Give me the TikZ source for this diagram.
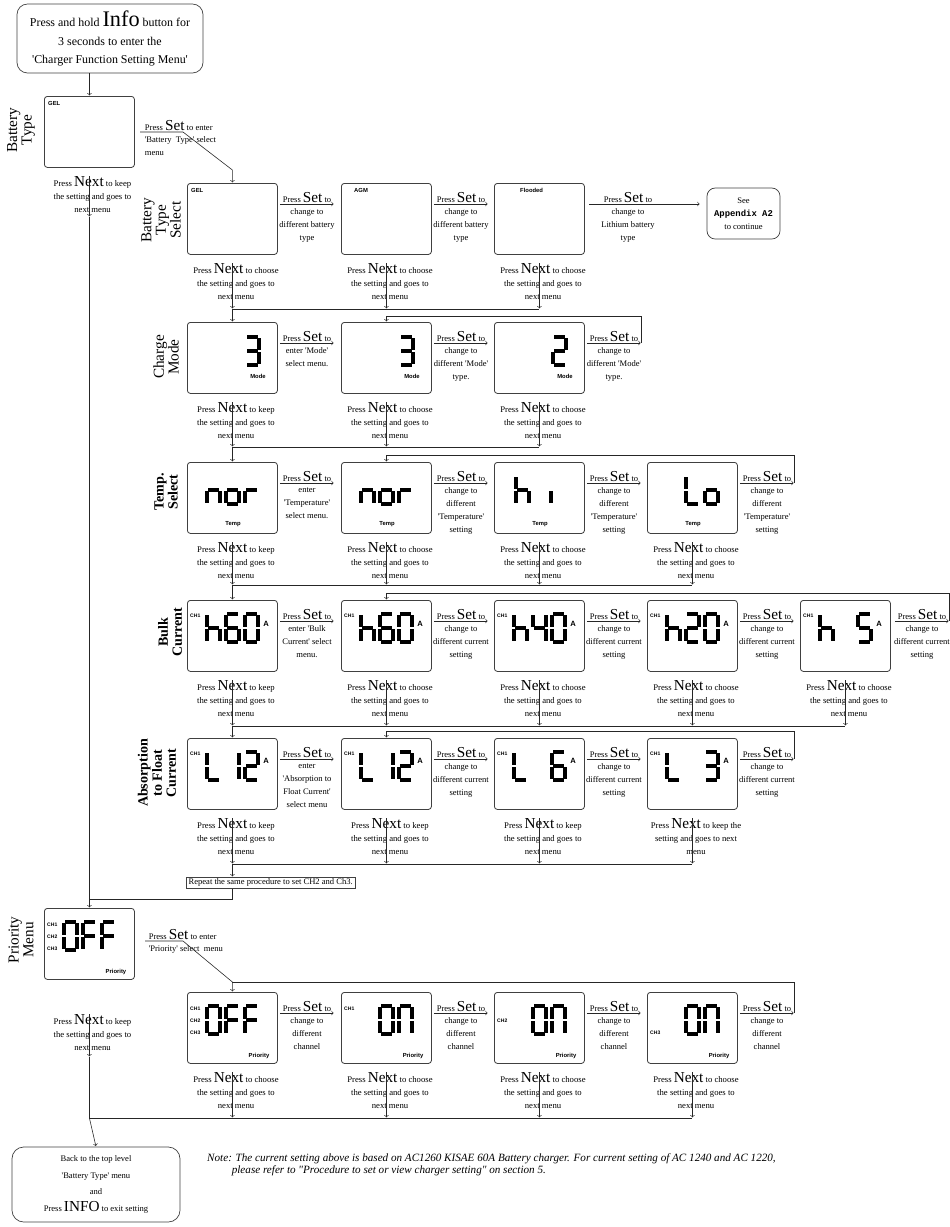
\documentclass[tikz,border=0pt]{standalone}
\usepackage{fontspec}
\setmainfont{Liberation Serif}[Ligatures=TeXOff]
\setsansfont{Liberation Sans}
\setmonofont{Liberation Mono}
\usetikzlibrary{positioning}

% big key words in the labels
\newcommand{\keyw}[1]{{\fontsize{13}{13}\selectfont #1}}

% seven segment codes, p1 p2 top, p3 p4 middle, p5 p6 bottom
\newcommand{\sgZero}{1/2,2/4,4/6,5/6,3/5,1/3}
\newcommand{\sgOne}{2/4,4/6}
\newcommand{\sgTwo}{1/2,2/4,3/4,3/5,5/6}
\newcommand{\sgThree}{1/2,2/4,3/4,4/6,5/6}
\newcommand{\sgFour}{1/3,3/4,2/4,4/6}
\newcommand{\sgFive}{1/2,1/3,3/4,4/6,5/6}
\newcommand{\sgSix}{1/2,1/3,3/5,5/6,4/6,3/4}
\newcommand{\sgH}{1/3,3/5,3/4,4/6}
\newcommand{\sgL}{1/3,3/5,5/6}
\newcommand{\sgN}{3/5,3/4,4/6}
\newcommand{\sgO}{3/4,4/6,5/6,3/5}
\newcommand{\sgR}{3/5,3/4}
\newcommand{\sgI}{3/5}
\newcommand{\sgF}{1/2,1/3,3/5,3/4}
\newcommand{\sgCap}{1/2,2/4,4/6,1/3,3/5}

\newcommand{\lcddigit}[3]{%
  \begin{scope}[shift={(#1,#2)}]
    \coordinate (p1) at (0,0);  \coordinate (p2) at (13,0);
    \coordinate (p3) at (0,14); \coordinate (p4) at (13,14);
    \coordinate (p5) at (0,28); \coordinate (p6) at (13,28);
    \edef\lcdlist{#3}%
    \foreach \s/\t in \lcdlist {\draw[lcdseg] (p\s) -- (p\t);}
  \end{scope}}

\begin{document}
\begin{tikzpicture}[x=0.03cm, y=-0.03cm,
  lcd/.style={draw=black!75, line width=0.7pt, rounded corners=2.5pt, minimum width=2.7cm, minimum height=2.13cm, anchor=north west, inner sep=0pt},
  lcdseg/.style={line width=2.8pt, shorten >=1.1pt, shorten <=1.1pt},
  tag/.style={font=\sffamily\bfseries\fontsize{5}{5}\selectfont, inner sep=0pt},
  chtag/.style={font=\sffamily\bfseries\fontsize{4.3}{4.3}\selectfont, inner sep=0pt, anchor=west},
  amp/.style={font=\sffamily\bfseries\fontsize{6.5}{6.5}\selectfont, inner sep=0pt},
  rowlbl/.style={font=\fontsize{13}{12.5}\selectfont, align=center, rotate=90, inner sep=0pt},
  rowbold/.style={font=\bfseries\fontsize{12}{12}\selectfont, align=center, rotate=90, inner sep=0pt},
  setlbl/.style={font=\fontsize{7.3}{11}\selectfont, minimum width=1.62cm, inner xsep=0pt, inner ysep=1pt, anchor=south},
  setsub/.style={font=\fontsize{7.3}{11}\selectfont, align=center, inner sep=0pt},
  nextlbl/.style={font=\fontsize{7.4}{11.2}\selectfont, align=center, inner sep=0pt, anchor=north},
  roundbox/.style={draw=black!75, line width=0.6pt, align=center, inner sep=0pt},
  link/.style={->, draw=black!85, line width=0.5pt, shorten >=0.5pt},
  wire/.style={draw=black!85, line width=0.5pt}]
\useasboundingbox (0,0) rectangle (950,1227);
\clip (0,0) rectangle (950,1227);

% y levels of the joining lines
\coordinate (m1) at (0,217);
\coordinate (k1) at (183,132);
\coordinate (k2) at (0,170);
\coordinate (c2) at (0,309);
\coordinate (l3) at (0,316);
\coordinate (c3) at (0,447);
\coordinate (l4) at (0,455);
\coordinate (c4) at (0,585);
\coordinate (l5) at (0,593);
\coordinate (c5) at (0,726);
\coordinate (l6) at (0,731);
\coordinate (c6) at (0,864);
\coordinate (j7) at (0,899);
\coordinate (k7) at (183,941);
\coordinate (l8) at (0,982);
\coordinate (m7) at (0,1057);
\coordinate (c8) at (0,1118);

% start
\node[roundbox, minimum width=5.58cm, minimum height=2.07cm, rounded corners=9pt, font=\fontsize{10.2}{15.5}\selectfont] (start) at (110,38.5)
  {Press and hold {\fontsize{19}{19}\selectfont Info} button for\\3 seconds to enter the\\'Charger Function Setting Menu'};

% battery type
\node[rowlbl] (r1) at (21,130) {Battery\\Type};
\node[lcd] (b1) at (44,96) {};
\node[tag, anchor=north west] at (48,101) {GEL};
\draw[link] (start.south -| b1.north) -- (b1.north);
\node[setsub, anchor=south west, inner xsep=4pt, inner ysep=1pt] (e1) at (140,132) {Press \keyw{Set} to enter};
\node[setsub, anchor=north west, align=left, inner xsep=4pt] at (140,136) {'Battery~~Type' select\\menu};
\node[nextlbl] (n1) at (92.5,176) {Press \keyw{Next} to keep\\the setting and goes to\\next menu};

% battery type select
\node[rowlbl] (r2) at (161,220) {Battery\\Type\\Select};
\node[lcd] (b21) at (187,183) {};
\node[lcd] (b22) at (341,183) {};
\node[lcd] (b23) at (494,183) {};
\node[tag, anchor=north west] at (191,188) {GEL};
\node[tag, anchor=north west] at (354,188) {AGM};
\node[tag, anchor=north west] at (520,188) {Flooded};
\node[roundbox, minimum width=2.19cm, minimum height=1.53cm, rounded corners=7pt, font=\fontsize{7.3}{11}\selectfont] (app) at (743.5,213.5)
  {See\\{\ttfamily\bfseries\fontsize{7.6}{11}\selectfont Appendix A2}\\to continue};
\node[setlbl] (s21) at (307,204) {Press \keyw{Set} to};
\node[setsub, below=4pt of s21] {change to\\different battery\\type};
\node[setlbl] (s22) at (461,204) {Press \keyw{Set} to};
\node[setsub, below=4pt of s22] {change to\\different battery\\type};
\node[setlbl, minimum width=2.3cm] (s23) at (628,204) {Press \keyw{Set} to};
\node[setsub, below=4pt of s23] {change to\\Lithium battery\\type};
\draw[link] (e1.south west) -- (k1) -- (b21.north |- k2) -- (b21.north);
\draw[link] (s21.south west) -- (s21.south east);
\draw[link] (s22.south west) -- (s22.south east);
\draw[link, shorten >=6pt] (s23.south west) -- (s23.south west -| app.west);
\node[nextlbl] (n21) at (236,263) {Press \keyw{Next} to choose\\the setting and goes to\\next menu};
\node[nextlbl] (n22) at (390,263) {Press \keyw{Next} to choose\\the setting and goes to\\next menu};
\node[nextlbl] (n23) at (543,263) {Press \keyw{Next} to choose\\the setting and goes to\\next menu};
\draw[link] (n21.north -| b21.south) -- (b21.south |- c2);
\draw[link] (n22.north -| b22.south) -- (b22.south |- c2);
\draw[link] (n23.north -| b23.south) -- (b23.south |- c2);
\draw[wire] (b21.south |- c2) -- (b23.south |- c2);

% charge mode
\node[rowlbl] (r3) at (166,357) {Charge\\Mode};
\node[lcd] (b31) at (187,322) {};
\node[lcd] (b32) at (341,322) {};
\node[lcd] (b33) at (494,322) {};
\lcddigit{246}{337}{\sgThree}
\lcddigit{400}{337}{\sgThree}
\lcddigit{553}{337}{\sgTwo}
\node[tag] at (258,376) {Mode};
\node[tag] at (412,376) {Mode};
\node[tag] at (565,376) {Mode};
\draw[link] (b21.south |- c2) -- (b31.north);
\node[setlbl] (s31) at (307,343) {Press \keyw{Set} to};
\node[setsub, below=4pt of s31] {enter 'Mode'\\select menu.};
\node[setlbl] (s32) at (461,343) {Press \keyw{Set} to};
\node[setsub, below=4pt of s32] {change to\\different 'Mode'\\type.};
\node[setlbl] (s33) at (614,343) {Press \keyw{Set} to};
\node[setsub, below=4pt of s33] {change to\\different 'Mode'\\type.};
\draw[link] (s31.south west) -- (s31.south east);
\draw[link] (s32.south west) -- (s32.south east);
\draw[link] (s33.south west) -- (s33.south east);
\draw[link] (s33.south east) |- (b32.north |- l3) -- (b32.north);
\node[nextlbl] (n31) at (236,402) {Press \keyw{Next} to keep\\the setting and goes to\\next menu};
\node[nextlbl] (n32) at (390,402) {Press \keyw{Next} to choose\\the setting and goes to\\next menu};
\node[nextlbl] (n33) at (543,402) {Press \keyw{Next} to choose\\the setting and goes to\\next menu};
\draw[link] (n31.north -| b31.south) -- (b31.south |- c3);
\draw[link] (n32.north -| b32.south) -- (b32.south |- c3);
\draw[link] (n33.north -| b33.south) -- (b33.south |- c3);
\draw[wire] (b31.south |- c3) -- (b33.south |- c3);

% temperature
\node[rowbold] (r4) at (166,492) {Temp.\\Select};
\node[lcd] (b41) at (187,462) {};
\node[lcd] (b42) at (341,462) {};
\node[lcd] (b43) at (494,462) {};
\node[lcd] (b44) at (647,462) {};
\lcddigit{207}{476}{\sgN} \lcddigit{226}{476}{\sgO} \lcddigit{245}{476}{\sgR}
\lcddigit{361}{476}{\sgN} \lcddigit{380}{476}{\sgO} \lcddigit{399}{476}{\sgR}
\lcddigit{516}{476}{\sgH} \lcddigit{551}{476}{\sgI}
\lcddigit{686}{476}{\sgL} \lcddigit{705}{476}{\sgO}
\node[tag] at (233,524) {Temp};
\node[tag] at (387,524) {Temp};
\node[tag] at (540,524) {Temp};
\node[tag] at (693,524) {Temp};
\draw[link] (b31.south |- c3) -- (b41.north);
\node[setlbl] (s41) at (307,483) {Press \keyw{Set} to};
\node[setsub, below=4pt of s41] {enter\\'Temperature'\\select menu.};
\node[setlbl] (s42) at (461,483) {Press \keyw{Set} to};
\node[setsub, below=4pt of s42] {change to\\different\\'Temperature'\\setting};
\node[setlbl] (s43) at (614,483) {Press \keyw{Set} to};
\node[setsub, below=4pt of s43] {change to\\different\\'Temperature'\\setting};
\node[setlbl] (s44) at (767,483) {Press \keyw{Set} to};
\node[setsub, below=4pt of s44] {change to\\different\\'Temperature'\\setting};
\draw[link] (s41.south west) -- (s41.south east);
\draw[link] (s42.south west) -- (s42.south east);
\draw[link] (s43.south west) -- (s43.south east);
\draw[link] (s44.south west) -- (s44.south east);
\draw[link] (s44.south east) |- (b42.north |- l4) -- (b42.north);
\node[nextlbl] (n41) at (236,542) {Press \keyw{Next} to keep\\the setting and goes to\\next menu};
\node[nextlbl] (n42) at (390,542) {Press \keyw{Next} to choose\\the setting and goes to\\next menu};
\node[nextlbl] (n43) at (543,542) {Press \keyw{Next} to choose\\the setting and goes to\\next menu};
\node[nextlbl] (n44) at (696,542) {Press \keyw{Next} to choose\\the setting and goes to\\next menu};
\draw[link] (n41.north -| b41.south) -- (b41.south |- c4);
\draw[link] (n42.north -| b42.south) -- (b42.south |- c4);
\draw[link] (n43.north -| b43.south) -- (b43.south |- c4);
\draw[link] (n44.north -| b44.south) -- (b44.south |- c4);
\draw[wire] (b41.south |- c4) -- (b44.south |- c4);

% bulk current
\node[rowbold] (r5) at (170,632) {Bulk\\Current};
\node[lcd] (b51) at (187,600) {};
\node[lcd] (b52) at (341,600) {};
\node[lcd] (b53) at (494,600) {};
\node[lcd] (b54) at (647,600) {};
\node[lcd] (b55) at (800,600) {};
\lcddigit{207}{614}{\sgH} \lcddigit{226}{614}{\sgSix} \lcddigit{245}{614}{\sgZero}
\lcddigit{361}{614}{\sgH} \lcddigit{380}{614}{\sgSix} \lcddigit{399}{614}{\sgZero}
\lcddigit{514}{614}{\sgH} \lcddigit{533}{614}{\sgFour} \lcddigit{552}{614}{\sgZero}
\lcddigit{667}{614}{\sgH} \lcddigit{686}{614}{\sgTwo} \lcddigit{705}{614}{\sgZero}
\lcddigit{820}{614}{\sgH} \lcddigit{858}{614}{\sgFive}
\node[chtag] at (190,616) {CH1}; \node[amp] at (266,624) {A};
\node[chtag] at (344,616) {CH1}; \node[amp] at (420,624) {A};
\node[chtag] at (497,616) {CH1}; \node[amp] at (573,624) {A};
\node[chtag] at (650,616) {CH1}; \node[amp] at (726,624) {A};
\node[chtag] at (803,616) {CH1}; \node[amp] at (879,624) {A};
\draw[link] (b41.south |- c4) -- (b51.north);
\node[setlbl] (s51) at (307,621) {Press \keyw{Set} to};
\node[setsub, below=4pt of s51] {enter 'Bulk\\Current' select\\menu.};
\node[setlbl] (s52) at (461,621) {Press \keyw{Set} to};
\node[setsub, below=4pt of s52] {change to\\different current\\setting};
\node[setlbl] (s53) at (614,621) {Press \keyw{Set} to};
\node[setsub, below=4pt of s53] {change to\\different current\\setting};
\node[setlbl] (s54) at (767,621) {Press \keyw{Set} to};
\node[setsub, below=4pt of s54] {change to\\different current\\setting};
\node[setlbl] (s55) at (922,621) {Press \keyw{Set} to};
\node[setsub, below=4pt of s55] {change to\\different current\\setting};
\draw[link] (s51.south west) -- (s51.south east);
\draw[link] (s52.south west) -- (s52.south east);
\draw[link] (s53.south west) -- (s53.south east);
\draw[link] (s54.south west) -- (s54.south east);
\draw[link] (s55.south west) -- (s55.south east);
\draw[link] (s55.south east) |- (b52.north |- l5) -- (b52.north);
\node[nextlbl] (n51) at (236,680) {Press \keyw{Next} to keep\\the setting and goes to\\next menu};
\node[nextlbl] (n52) at (390,680) {Press \keyw{Next} to choose\\the setting and goes to\\next menu};
\node[nextlbl] (n53) at (543,680) {Press \keyw{Next} to choose\\the setting and goes to\\next menu};
\node[nextlbl] (n54) at (696,680) {Press \keyw{Next} to choose\\the setting and goes to\\next menu};
\node[nextlbl] (n55) at (849,680) {Press \keyw{Next} to choose\\the setting and goes to\\next menu};
\draw[link] (n51.north -| b51.south) -- (b51.south |- c5);
\draw[link] (n52.north -| b52.south) -- (b52.south |- c5);
\draw[link] (n53.north -| b53.south) -- (b53.south |- c5);
\draw[link] (n54.north -| b54.south) -- (b54.south |- c5);
\draw[link] (n55.north -| b55.south) -- (b55.south |- c5);
\draw[wire] (b51.south |- c5) -- (b55.south |- c5);

% absorption to float current
\node[rowbold] (r6) at (157,773) {Absorption\\to Float\\Current};
\node[lcd] (b61) at (187,738) {};
\node[lcd] (b62) at (341,738) {};
\node[lcd] (b63) at (494,738) {};
\node[lcd] (b64) at (647,738) {};
\lcddigit{207}{752}{\sgL} \lcddigit{226}{752}{\sgOne} \lcddigit{245}{752}{\sgTwo}
\lcddigit{361}{752}{\sgL} \lcddigit{380}{752}{\sgOne} \lcddigit{399}{752}{\sgTwo}
\lcddigit{514}{752}{\sgL} \lcddigit{552}{752}{\sgSix}
\lcddigit{667}{752}{\sgL} \lcddigit{705}{752}{\sgThree}
\node[chtag] at (190,754) {CH1}; \node[amp] at (266,761) {A};
\node[chtag] at (344,754) {CH1}; \node[amp] at (420,761) {A};
\node[chtag] at (497,754) {CH1}; \node[amp] at (573,761) {A};
\node[chtag] at (650,754) {CH1}; \node[amp] at (726,761) {A};
\draw[link] (b51.south |- c5) -- (b61.north);
\node[setlbl] (s61) at (307,759) {Press \keyw{Set} to};
\node[setsub, below=4pt of s61] {enter\\'Absorption to\\Float Current'\\select menu};
\node[setlbl] (s62) at (461,759) {Press \keyw{Set} to};
\node[setsub, below=4pt of s62] {change to\\different current\\setting};
\node[setlbl] (s63) at (614,759) {Press \keyw{Set} to};
\node[setsub, below=4pt of s63] {change to\\different current\\setting};
\node[setlbl] (s64) at (767,759) {Press \keyw{Set} to};
\node[setsub, below=4pt of s64] {change to\\different current\\setting};
\draw[link] (s61.south west) -- (s61.south east);
\draw[link] (s62.south west) -- (s62.south east);
\draw[link] (s63.south west) -- (s63.south east);
\draw[link] (s64.south west) -- (s64.south east);
\draw[link] (s64.south east) |- (b62.north |- l6) -- (b62.north);
\node[nextlbl] (n61) at (236,818) {Press \keyw{Next} to keep\\the setting and goes to\\next menu};
\node[nextlbl] (n62) at (390,818) {Press \keyw{Next} to keep\\the setting and goes to\\next menu};
\node[nextlbl] (n63) at (543,818) {Press \keyw{Next} to keep\\the setting and goes to\\next menu};
\node[nextlbl] (n64) at (696,818) {Press \keyw{Next} to keep the\\setting and goes to next\\menu};
\draw[link] (n61.north -| b61.south) -- (b61.south |- c6);
\draw[link] (n62.north -| b62.south) -- (b62.south |- c6);
\draw[link] (n63.north -| b63.south) -- (b63.south |- c6);
\draw[link] (n64.north -| b64.south) -- (b64.south |- c6);
\draw[wire] (b61.south |- c6) -- (b64.south |- c6);
\node[draw=black!75, line width=0.5pt, anchor=north west, inner xsep=2pt, inner ysep=1.5pt, font=\fontsize{7.3}{8}\selectfont] (rep) at (186,877) {Repeat the same procedure to set CH2 and Ch3.};
\draw[link] (b61.south |- c6) -- (b61.south |- rep.north);
\draw[wire] (b61.south |- rep.south) |- (b1.south |- j7);

% priority menu
\node[rowlbl] (r7) at (21,940) {Priority\\Menu};
\node[lcd] (b7) at (44,908) {};
\lcddigit{64}{922}{\sgZero} \lcddigit{83}{922}{\sgF} \lcddigit{102}{922}{\sgF}
\node[chtag] at (47,925) {CH1};
\node[chtag] at (47,937) {CH2};
\node[chtag] at (47,949) {CH3};
\node[tag] at (116,972) {Priority};
\draw[link] (n1.north -| b1.south) -- (b1.south |- m1);
\draw[link] (b1.south |- m1) -- (b7.north);
\node[setsub, anchor=south west, inner xsep=3pt, inner ysep=1pt] (e7) at (145,941) {Press \keyw{Set} to enter};
\node[setsub, anchor=north west, align=left, inner xsep=3pt] at (145,945) {'Priority' select~~menu};
\node[nextlbl] (n7) at (92.5,1014) {Press \keyw{Next} to keep\\the setting and goes to\\next menu};

% priority select
\node[lcd] (b81) at (187,992) {};
\node[lcd] (b82) at (341,992) {};
\node[lcd] (b83) at (494,992) {};
\node[lcd] (b84) at (647,992) {};
\lcddigit{207}{1006}{\sgZero} \lcddigit{226}{1006}{\sgF} \lcddigit{245}{1006}{\sgF}
\lcddigit{380}{1006}{\sgZero} \lcddigit{399}{1006}{\sgCap}
\lcddigit{533}{1006}{\sgZero} \lcddigit{552}{1006}{\sgCap}
\lcddigit{686}{1006}{\sgZero} \lcddigit{705}{1006}{\sgCap}
\node[chtag] at (190,1009) {CH1};
\node[chtag] at (190,1021) {CH2};
\node[chtag] at (190,1033) {CH3};
\node[chtag] at (344,1009) {CH1};
\node[chtag] at (497,1021) {CH2};
\node[chtag] at (650,1033) {CH3};
\node[tag] at (259,1056) {Priority};
\node[tag] at (413,1056) {Priority};
\node[tag] at (566,1056) {Priority};
\node[tag] at (719,1056) {Priority};
\draw[link] (e7.south west) -- (k7) -- (b81.north |- l8) -- (b81.north);
\node[setlbl] (s81) at (307,1013) {Press \keyw{Set} to};
\node[setsub, below=4pt of s81] {change to\\different\\channel};
\node[setlbl] (s82) at (461,1013) {Press \keyw{Set} to};
\node[setsub, below=4pt of s82] {change to\\different\\channel};
\node[setlbl] (s83) at (614,1013) {Press \keyw{Set} to};
\node[setsub, below=4pt of s83] {change to\\different\\channel};
\node[setlbl] (s84) at (767,1013) {Press \keyw{Set} to};
\node[setsub, below=4pt of s84] {change to\\different\\channel};
\draw[link] (s81.south west) -- (s81.south east);
\draw[link] (s82.south west) -- (s82.south east);
\draw[link] (s83.south west) -- (s83.south east);
\draw[link] (s84.south west) -- (s84.south east);
\draw[wire] (s84.south east) |- (b81.north |- l8);
\node[nextlbl] (n81) at (236,1072) {Press \keyw{Next} to choose\\the setting and goes to\\next menu};
\node[nextlbl] (n82) at (390,1072) {Press \keyw{Next} to choose\\the setting and goes to\\next menu};
\node[nextlbl] (n83) at (543,1072) {Press \keyw{Next} to choose\\the setting and goes to\\next menu};
\node[nextlbl] (n84) at (696,1072) {Press \keyw{Next} to choose\\the setting and goes to\\next menu};
\draw[link] (n81.north -| b81.south) -- (b81.south |- c8);
\draw[link] (n82.north -| b82.south) -- (b82.south |- c8);
\draw[link] (n83.north -| b83.south) -- (b83.south |- c8);
\draw[link] (n84.north -| b84.south) -- (b84.south |- c8);
\draw[link] (n7.north -| b7.south) -- (b7.south |- m7);
\draw[wire] (b7.south |- m7) -- (b7.south |- c8) -- (b84.south |- c8);

% back to top level
\node[roundbox, minimum width=5.04cm, minimum height=2.25cm, rounded corners=10pt, font=\fontsize{7.3}{14}\selectfont] (back) at (96,1184.5)
  {Back to the top level\\'Battery Type' menu\\and\\Press \keyw{INFO} to exit setting};
\draw[link] (b7.south |- c8) -- (back.north);
\node[anchor=north west, align=left, inner sep=0pt, font=\itshape\fontsize{9.5}{11}\selectfont] (note) at (207,1153)
  {Note: The current setting above is based on AC1260 KISAE 60A Battery charger. For current setting of AC 1240 and AC 1220,\\\hspace*{21pt}please refer to "Procedure to set or view charger setting" on section 5.};
\end{tikzpicture}
\end{document}
